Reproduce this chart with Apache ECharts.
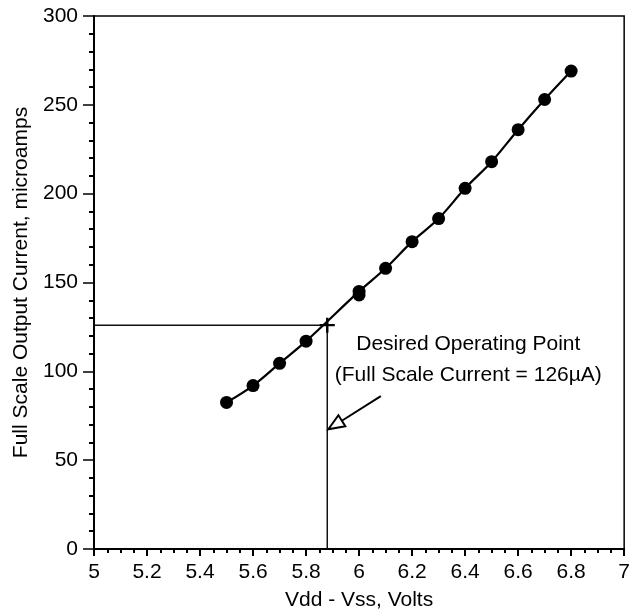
<!DOCTYPE html>
<html>
<head>
<meta charset="utf-8">
<script src="https://cdn.jsdelivr.net/npm/echarts@6/dist/echarts.min.js"></script>
<style>
  html, body { margin: 0; padding: 0; background: #fff; }
  #chart { width: 633px; height: 616px; }
</style>
</head>
<body>
<div id="chart"></div>
<script>
// ---- data ----
const voltage = [5.5, 5.6, 5.7, 5.8, 6.0, 6.1, 6.2, 6.3, 6.4, 6.5, 6.6, 6.7, 6.8];
const current = [82.5, 92, 104.5, 117, 145, 158, 173, 186, 203, 218, 236, 253, 269];
// second measurement taken at 6.0 V
const repeatV = [6.0];
const repeatI = [143];
// desired operating point
const opV = 5.88;
const opI = 126;
// tick labels
const xTicks = ['5', '5.2', '5.4', '5.6', '5.8', '6', '6.2', '6.4', '6.6', '6.8', '7'];
const yTicks = ['0', '50', '100', '150', '200', '250', '300'];
// annotation texts
const noteLine1 = 'Desired Operating Point';
const noteLine2 = '(Full Scale Current = 126\u00B5A)';
const xTitle = 'Vdd - Vss, Volts';
const yTitle = 'Full Scale Output Current, microamps';

const FONT = '"Liberation Sans", Arial, Helvetica, sans-serif';
const FS = 21;
const xMin = parseFloat(xTicks[0]), xMax = parseFloat(xTicks[xTicks.length - 1]);
const xStep = parseFloat(xTicks[1]) - xMin;
const yMin = parseFloat(yTicks[0]), yMax = parseFloat(yTicks[yTicks.length - 1]);
const yStep = parseFloat(yTicks[1]) - yMin;

const pts = voltage.map((v, i) => [v, current[i]]);
const dots = pts.concat(repeatV.map((v, i) => [v, repeatI[i]]));

const chart = echarts.init(document.getElementById('chart'), null, { renderer: 'canvas' });

const plusPath = 'path://M-1.6,-10L1.6,-10L1.6,-1.6L10,-1.6L10,1.6L1.6,1.6L1.6,10L-1.6,10L-1.6,1.6L-10,1.6L-10,-1.6L-1.6,-1.6Z';

chart.setOption({
  animation: false,
  backgroundColor: '#fff',
  grid: {
    left: 94, right: 5, top: 16, bottom: 66,
    show: true, borderColor: '#000', borderWidth: 1.5, backgroundColor: 'transparent'
  },
  xAxis: {
    type: 'value', min: xMin, max: xMax, interval: xStep,
    name: xTitle, nameLocation: 'middle', nameGap: 41,
    nameTextStyle: { fontFamily: FONT, fontSize: FS, color: '#000' },
    axisLine: { show: true, onZero: false, lineStyle: { color: '#000', width: 2 } },
    axisTick: { show: true, inside: false, length: 7, lineStyle: { color: '#000', width: 2 } },
    minorTick: { show: true, splitNumber: 4, length: 4, lineStyle: { color: '#000', width: 2 } },
    splitLine: { show: false },
    axisLabel: {
      margin: 13, fontFamily: FONT, fontSize: FS, color: '#000',
      formatter: (val) => {
        const idx = Math.round((val - xMin) / xStep);
        return xTicks[idx] !== undefined ? xTicks[idx] : '';
      }
    }
  },
  yAxis: {
    type: 'value', min: yMin, max: yMax, interval: yStep,
    name: yTitle, nameLocation: 'middle', nameGap: 62,
    nameTextStyle: { fontFamily: FONT, fontSize: FS, color: '#000' },
    axisLine: { show: true, onZero: false, lineStyle: { color: '#000', width: 2 } },
    axisTick: { show: true, inside: false, length: 11, lineStyle: { color: '#000', width: 1.5 } },
    minorTick: { show: true, splitNumber: 5, length: 5, lineStyle: { color: '#000', width: 2 } },
    splitLine: { show: false },
    axisLabel: {
      margin: 16, fontFamily: FONT, fontSize: FS, color: '#000',
      formatter: (val) => {
        const idx = Math.round((val - yMin) / yStep);
        return yTicks[idx] !== undefined ? yTicks[idx] : '';
      }
    }
  },
  series: [
    {
      name: 'guide', type: 'line',
      data: [[xMin, opI], [opV, opI], [opV, yMin]],
      showSymbol: false, silent: true,
      lineStyle: { color: '#111', width: 1.5 },
      z: 2
    },
    {
      name: 'fit', type: 'line', data: pts, smooth: 0.35,
      showSymbol: false, silent: true,
      lineStyle: { color: '#000', width: 2.2 },
      z: 3
    },
    {
      name: 'measured', type: 'scatter', data: dots,
      symbol: 'circle', symbolSize: 13,
      itemStyle: { color: '#000', opacity: 1 },
      z: 4
    },
    {
      name: 'op', type: 'scatter', data: [[opV, opI]],
      symbol: plusPath, symbolSize: 15,
      itemStyle: { color: '#000', opacity: 1 },
      z: 5
    }
  ]
});

// annotation placed in data coordinates, converted through the axes
const toPx = (p) => chart.convertToPixel({ gridIndex: 0 }, p);
const t1 = toPx([6.412, 115.5]);
const t2 = toPx([6.412, 98]);
const tip = toPx([5.884, 67.4]);
const tail = toPx([6.082, 86.0]);
const dx = tip[0] - tail[0], dy = tip[1] - tail[1];
const len = Math.sqrt(dx * dx + dy * dy);
const ux = dx / len, uy = dy / len;
const headL = 16, headW = 6.5;
const bx = tip[0] - ux * headL, by = tip[1] - uy * headL;
const nx = -uy, ny = ux;

chart.setOption({
  graphic: [
    {
      type: 'text', x: t1[0], y: t1[1],
      style: { text: noteLine1, font: FS + 'px ' + FONT, fill: '#000', align: 'center', verticalAlign: 'middle' }
    },
    {
      type: 'text', x: t2[0], y: t2[1],
      style: { text: noteLine2, font: FS + 'px ' + FONT, fill: '#000', align: 'center', verticalAlign: 'middle' }
    },
    {
      type: 'line',
      shape: { x1: tail[0], y1: tail[1], x2: bx, y2: by },
      style: { stroke: '#000', lineWidth: 2 }
    },
    {
      type: 'polygon',
      shape: { points: [tip, [bx + nx * headW, by + ny * headW], [bx - nx * headW, by - ny * headW]] },
      style: { fill: '#fff', stroke: '#000', lineWidth: 2 }
    }
  ]
});
</script>
</body>
</html>
